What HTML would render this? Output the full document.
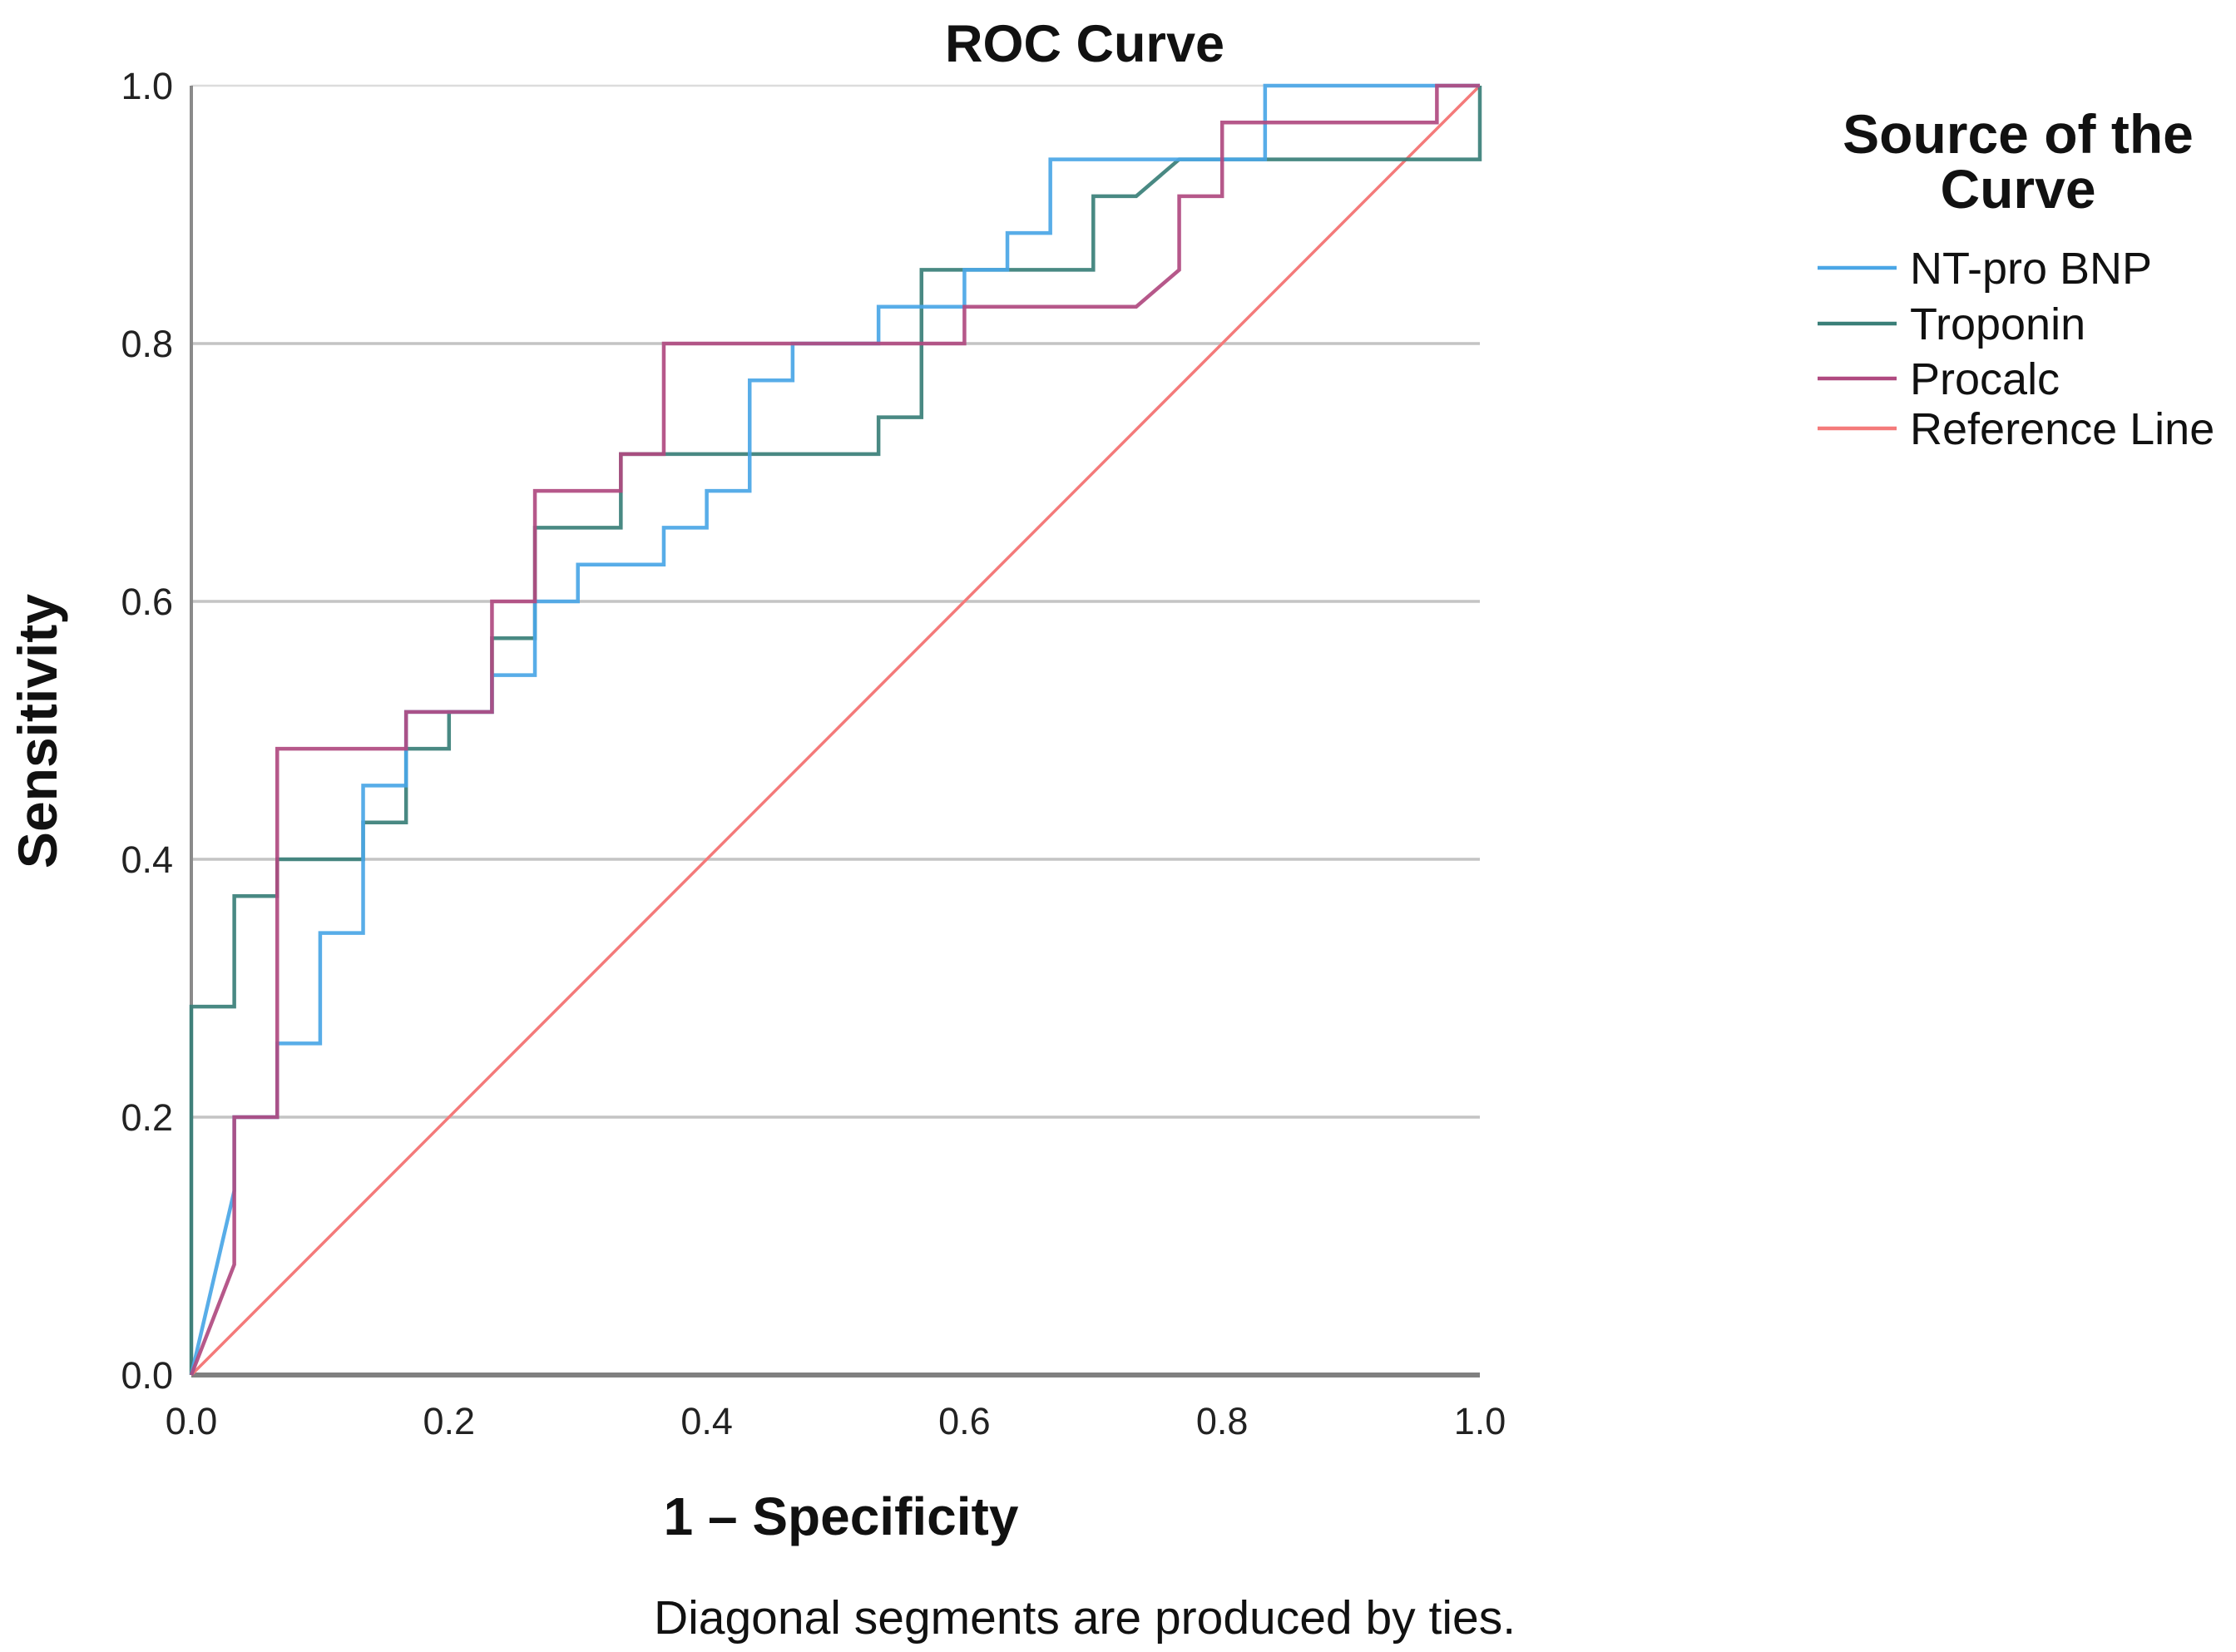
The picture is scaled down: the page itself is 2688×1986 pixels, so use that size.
<!DOCTYPE html>
<html><head><meta charset="utf-8"><style>
html,body{margin:0;padding:0;background:#fff;}
svg{display:block;font-family:"Liberation Sans",sans-serif;}
</style></head><body>
<svg id="chart" width="2688" height="1986" viewBox="0 0 2688 1986">
<text x="1304" y="74" text-anchor="middle" font-size="63" font-weight="bold" fill="#111">ROC Curve</text>
<g id="grid"></g>
<g id="axes"></g>
<g id="series"></g>
<text x="1011" y="1845" text-anchor="middle" font-size="64" font-weight="bold" fill="#111">1 – Specificity</text>
<text transform="translate(68,879) rotate(-90)" text-anchor="middle" font-size="66" font-weight="bold" fill="#111">Sensitivity</text>
<text x="1304" y="1964" text-anchor="middle" font-size="57" fill="#111">Diagonal segments are produced by ties.</text>
<g>
<text x="2426" y="184" text-anchor="middle" font-size="66" font-weight="bold" fill="#111">Source of the</text>
<text x="2426" y="250" text-anchor="middle" font-size="66" font-weight="bold" fill="#111">Curve</text>
<g id="legend-entries"></g>
</g>
</svg>
<script>
const xTicks=[0,0.2,0.4,0.6,0.8,1.0];
const yTicks=[0,0.2,0.4,0.6,0.8,1.0];
const seriesNames=["NT-pro BNP","Troponin","Procalc","Reference Line"];
const bnpX=[0,1/30,1/30,2/30,2/30,3/30,3/30,4/30,4/30,5/30,5/30,7/30,7/30,8/30,8/30,9/30,9/30,11/30,11/30,12/30,12/30,13/30,13/30,14/30,14/30,16/30,16/30,18/30,18/30,19/30,19/30,20/30,20/30,25/30,25/30,1];
const bnpY=[0,5/35,7/35,7/35,9/35,9/35,12/35,12/35,16/35,16/35,18/35,18/35,19/35,19/35,21/35,21/35,22/35,22/35,23/35,23/35,24/35,24/35,27/35,27/35,28/35,28/35,29/35,29/35,30/35,30/35,31/35,31/35,33/35,33/35,1,1];
const tropX=[0,0,1/30,1/30,2/30,2/30,4/30,4/30,5/30,5/30,6/30,6/30,7/30,7/30,8/30,8/30,10/30,10/30,16/30,16/30,17/30,17/30,21/30,21/30,22/30,23/30,1,1];
const tropY=[0,10/35,10/35,13/35,13/35,14/35,14/35,15/35,15/35,17/35,17/35,18/35,18/35,20/35,20/35,23/35,23/35,25/35,25/35,26/35,26/35,30/35,30/35,32/35,32/35,33/35,33/35,1];
const procX=[0,1/30,1/30,2/30,2/30,5/30,5/30,7/30,7/30,8/30,8/30,10/30,10/30,11/30,11/30,18/30,18/30,22/30,23/30,23/30,24/30,24/30,29/30,29/30,1];
const procY=[0,3/35,7/35,7/35,17/35,17/35,18/35,18/35,21/35,21/35,24/35,24/35,25/35,25/35,28/35,28/35,29/35,29/35,30/35,32/35,32/35,34/35,34/35,1,1];
const refX=[0,1];
const refY=[0,1];
const colors=["#4aa6e6","#3a7f78","#b04a80","#f47a7a"];

const X0=230,X1=1779,Y0=1653,Y1=103;
const sx=v=>X0+(X1-X0)*v;
const sy=v=>Y0-(Y0-Y1)*v;
const NS="http://www.w3.org/2000/svg";
const grid=document.getElementById('grid'),axes=document.getElementById('axes'),series=document.getElementById('series'),leg=document.getElementById('legend-entries');
function mk(t,a){const e=document.createElementNS(NS,t);for(const k in a)e.setAttribute(k,a[k]);return e;}
yTicks.forEach(v=>{
  if(v>0){const l=mk('line',{x1:X0,x2:X1,y1:sy(v),y2:sy(v),stroke:v===1?'#dcdcdc':'#c4c4c4','stroke-width':v===1?2.5:3.5});
  
  
  grid.appendChild(l);}
  const t=mk('text',{x:208,y:sy(v)+16,'text-anchor':'end','font-size':45,fill:'#222'});t.textContent=v.toFixed(1);
  
  
  axes.appendChild(t);
});
xTicks.forEach(v=>{
  const t=mk('text',{x:sx(v),y:1724,'text-anchor':'middle','font-size':45,fill:'#222'});t.textContent=v.toFixed(1);
  
  
  axes.appendChild(t);
});
const ya=mk('line',{x1:X0,x2:X0,y1:Y1,y2:Y0,stroke:'#8a8a8a','stroke-width':4});


axes.appendChild(ya);
const xa=mk('line',{x1:X0,x2:X1,y1:Y0,y2:Y0,stroke:'#808080','stroke-width':6});


axes.appendChild(xa);
const data=[[bnpX,bnpY],[tropX,tropY],[procX,procY],[refX,refY]];
const order=[3,1,0,2];
order.forEach(i=>{
  const [xs,ys]=data[i];
  const p=mk('polyline',{points:xs.map((x,j)=>sx(x)+','+sy(ys[j])).join(' '),fill:'none',stroke:colors[i],'stroke-width':i===3?3.5:4.5,'stroke-linejoin':'miter','stroke-opacity':i===3?1:0.92});
  
  
  series.appendChild(p);
});
const ly=[322,389,455,515];
seriesNames.forEach((n,i)=>{
  const g=mk('g',{});
  
  
  g.appendChild(mk('line',{x1:2185,x2:2280,y1:ly[i],y2:ly[i],stroke:colors[i],'stroke-width':4.5}));
  const t=mk('text',{x:2296,y:ly[i]+19,'font-size':54,fill:'#111'});t.textContent=n;
  g.appendChild(t);leg.appendChild(g);
});
</script>
</body></html>
